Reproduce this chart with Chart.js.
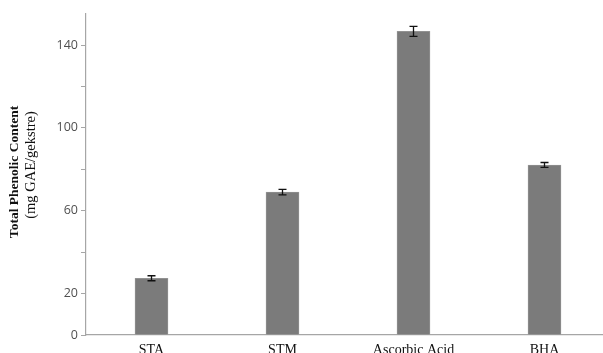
<!DOCTYPE html>
<html>
<head>
<meta charset="utf-8">
<script src="https://cdn.jsdelivr.net/npm/chart.js@4.4.1/dist/chart.umd.min.js"></script>
<style>
  html, body { margin: 0; padding: 0; background: #fff; overflow: hidden; }
  #wrap { width: 610px; height: 353px; }
</style>
</head>
<body>
<div id="wrap"><canvas id="c" width="610" height="353"></canvas></div>
<script>
// Total phenolic content of each sample (mean ± error)
const categories = ['STA', 'STM', 'Ascorbic Acid', 'BHA'];
const phenolic = [27.4, 69.0, 146.6, 82.1];
const errors = [1.2, 1.3, 2.4, 1.2];
const labelledTicks = [0, 20, 60, 100, 140];

// Draws the error whiskers on top of each bar
const errorBars = {
  id: 'errorBars',
  afterDatasetsDraw(chart) {
    const { ctx, scales: { x, y } } = chart;
    ctx.save();
    ctx.strokeStyle = '#111';
    ctx.lineWidth = 1.3;
    phenolic.forEach((v, i) => {
      const px = x.getPixelForValue(i);
      const top = y.getPixelForValue(v + errors[i]);
      const bot = y.getPixelForValue(v - errors[i]);
      ctx.beginPath();
      ctx.moveTo(px, top); ctx.lineTo(px, bot);
      ctx.moveTo(px - 4, top); ctx.lineTo(px + 4, top);
      ctx.moveTo(px - 4, bot); ctx.lineTo(px + 4, bot);
      ctx.stroke();
    });
    ctx.restore();
  }
};

// Two-line y-axis title: bold first line, regular unit line
const yTitle = {
  id: 'yTitle',
  afterDraw(chart) {
    const { ctx } = chart;
    ctx.save();
    ctx.fillStyle = '#111';
    ctx.textAlign = 'center';
    ctx.textBaseline = 'middle';
    ctx.translate(15, 172);
    ctx.rotate(-Math.PI / 2);
    ctx.font = 'bold 13.5px "Liberation Serif"';
    ctx.fillText('Total Phenolic Content', 0, 0);
    ctx.font = '14.5px "Liberation Serif"';
    ctx.fillText('(mg GAE/gekstre)', 7, 16);
    ctx.restore();
  }
};

new Chart(document.getElementById('c'), {
  type: 'bar',
  data: {
    labels: categories,
    datasets: [{
      data: phenolic,
      backgroundColor: '#7b7b7b',
      borderColor: '#9a9a9a',
      borderWidth: 0.8,
      barThickness: 33
    }]
  },
  options: {
    responsive: false,
    animation: false,
    layout: { padding: { top: 14, right: 0, left: 0, bottom: 0 } },
    plugins: { legend: { display: false }, tooltip: { enabled: false } },
    scales: {
      x: {
        grid: { display: false },
        border: { display: true, color: '#a6a6a6', width: 1.2 },
        ticks: {
          color: '#111',
          padding: -1,
          font: { family: '"Liberation Serif"', size: 14 }
        },
        afterFit(scale) { scale.height = 18; }
      },
      y: {
        min: 0,
        max: 155,
        grid: {
          display: true,
          drawOnChartArea: false,
          drawTicks: true,
          tickLength: 5,
          color: '#a6a6a6'
        },
        border: { display: true, color: '#a6a6a6', width: 1.2 },
        ticks: {
          stepSize: 20,
          includeBounds: false,
          color: '#505050',
          padding: 3,
          font: { family: '"Open Sans"', size: 12.5 },
          callback: (v) => labelledTicks.includes(v) ? String(v) : ''
        },
        afterFit(scale) { scale.width = 86; }
      }
    }
  },
  plugins: [errorBars, yTitle]
});
</script>
</body>
</html>
